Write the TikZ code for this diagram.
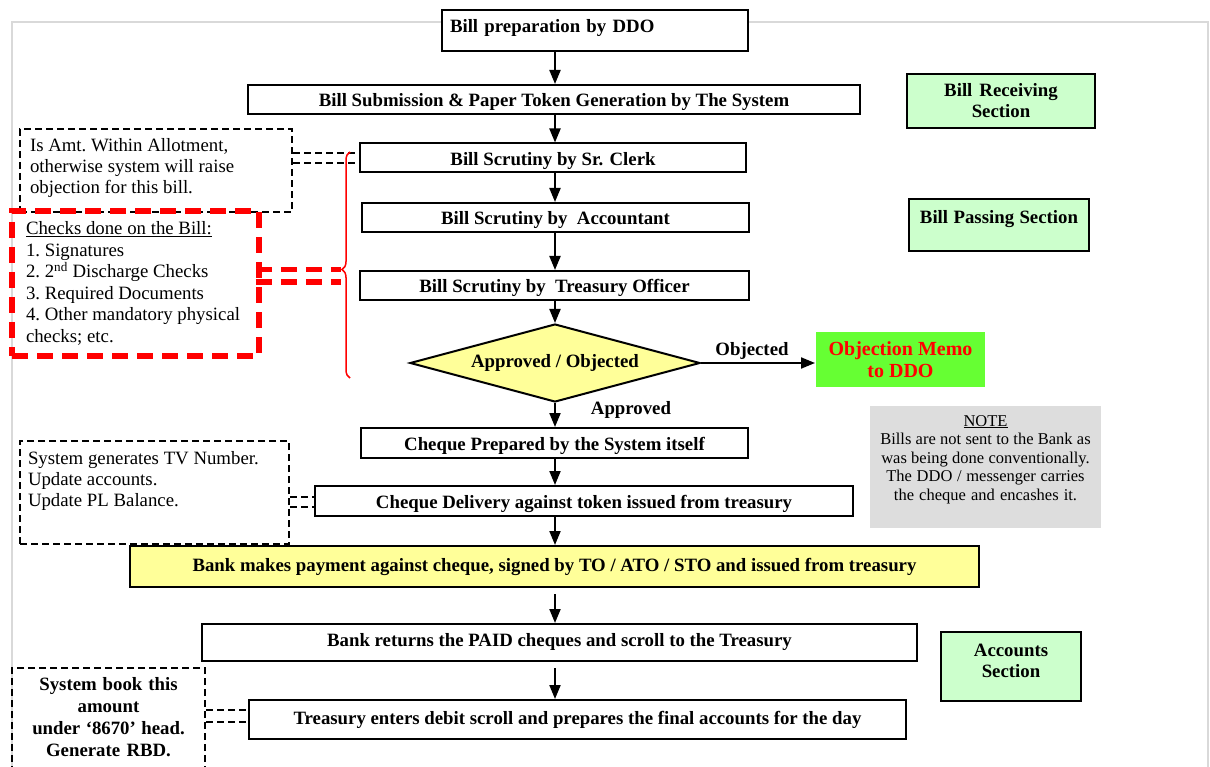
\documentclass[tikz,border=0pt]{standalone}
\usepackage{fontspec}
\setmainfont{Liberation Serif}
\usetikzlibrary{arrows.meta,shapes.geometric,decorations.pathreplacing}
\definecolor{paleyellow}{HTML}{FFFF99}
\definecolor{palegreen}{HTML}{CCFFCC}
\definecolor{memogreen}{HTML}{66FF33}
\definecolor{notegray}{HTML}{DDDDDD}
\definecolor{framegray}{HTML}{D9D9D9}

\begin{document}
\begin{tikzpicture}[x=1pt, y=-1pt,
    plainspace/.style={execute at begin node={\spaceskip=0pt\xspaceskip=0pt\frenchspacing}},
    stage/.style={draw, fill=white, line width=2pt, inner sep=0pt, font=\bfseries\fontsize{18.8}{21}\selectfont},
    slim/.style={stage, text height=19pt, text depth=4pt},
    section/.style={stage, fill=palegreen, align=center, plainspace},
    tag/.style={inner sep=0pt, font=\bfseries\fontsize{18.8}{21}\selectfont},
    remark/.style={draw, dash pattern=on 7pt off 4pt, line width=2pt, inner ysep=0pt, align=left, plainspace, font=\fontsize{18.8}{21}\selectfont},
    flow/.style={-{Triangle[length=14pt,width=11pt]}, line width=2pt},
    link/.style={dash pattern=on 7pt off 4pt, line width=2pt},
    redlink/.style={draw=red, dash pattern=on 16pt off 9pt, line width=5.5pt}]
    \useasboundingbox (0,0) rectangle (1210,767);
    \clip (0,0) rectangle (1210,767);
    \draw[framegray, line width=2pt] (12,790) -- (12,22) -- (1208,22) -- (1208,790);

    % Nodes
    \node[stage, inner xsep=8pt, text width=290pt, text height=23pt, text depth=18pt] (ddo) at (595,30.5) {Bill preparation by DDO};
    \node[slim, minimum width=612pt, minimum height=29pt] (submit) at (554,99.5) {Bill Submission \& Paper Token Generation by The System};
    \node[slim, minimum width=386pt, minimum height=29pt] (clerk) at (553,158) {Bill Scrutiny by Sr. Clerk};
    \node[slim, minimum width=387pt, minimum height=29pt] (accnt) at (555.5,217.5) {Bill Scrutiny by\ \ Accountant};
    \node[slim, minimum width=389pt, minimum height=29pt] (tofficer) at (554.5,285.5) {Bill Scrutiny by\ \ Treasury Officer};
    \node[stage, diamond, fill=paleyellow, aspect=3.7, minimum width=290pt, minimum height=78pt] (decide) at (555,363) {Approved / Objected};
    \node[stage, draw=none, fill=memogreen, text=red, align=center, minimum width=169pt, minimum height=55pt, font=\bfseries\fontsize{20}{22}\selectfont] (memo) at (900.5,359.5) {Objection Memo\\to DDO};
    \node[slim, minimum width=387pt, minimum height=30pt] (cheque) at (554.5,443) {Cheque Prepared by the System itself};
    \node[slim, minimum width=538pt, minimum height=30pt] (deliver) at (584,501) {Cheque Delivery against token issued from treasury};
    \node[stage, fill=paleyellow, minimum width=849pt, minimum height=41pt] (bank) at (554.5,566.5) {Bank makes payment against cheque, signed by TO / ATO / STO and issued from treasury};
    \node[stage, minimum width=715pt, minimum height=37pt] (paid) at (559.5,642.5) {Bank returns the PAID cheques and scroll to the Treasury};
    \node[stage, minimum width=657pt, minimum height=39pt] (debit) at (577.5,719.5) {Treasury enters debit scroll and prepares the final accounts for the day};

    % Sections and note
    \node[section, text width=188pt, text height=23pt, text depth=31pt] (recv) at (1001,101) {Bill Receiving\\Section};
    \node[section, text width=180pt, text height=25pt, text depth=27pt] (passing) at (999,225) {Bill Passing Section};
    \node[section, text width=140pt, text height=24pt, text depth=45pt] (accounts) at (1011,666.5) {Accounts\\Section};
    \node[fill=notegray, plainspace, text width=215pt, inner xsep=8pt, inner ysep=0pt, text height=20pt, text depth=102pt, align=center, font=\fontsize{16.5}{18.5}\selectfont] (note) at (985.5,467) {\underline{NOTE}\\Bills are not sent to the Bank as\\was being done conventionally.\\The DDO / messenger carries\\the cheque and encashes it.};

    % Remarks
    \node[remark, text width=252pt, inner xsep=10pt, text height=23pt, text depth=60pt] (amtbox) at (156,170.5) {Is Amt. Within Allotment,\\otherwise system will raise\\objection for this bill.};
    \node[remark, draw=red, dash pattern=on 16pt off 9pt, line width=5.5pt, text width=219pt, inner xsep=14pt, text height=24pt, text depth=121pt, font=\fontsize{18.8}{21.5}\selectfont] (checkbox) at (135.5,283.5) {\underline{Checks done on the Bill:}\\1. Signatures\\2. 2\textsuperscript{nd} Discharge Checks\\3. Required Documents\\4. Other mandatory physical\\checks; etc.};
    \node[remark, text width=253pt, inner xsep=8pt, text height=23pt, text depth=80pt] (tvbox) at (154.5,492.5) {System generates TV Number.\\Update accounts.\\Update PL Balance.};
    \node[remark, text width=177pt, inner xsep=8pt, align=center, text height=22pt, text depth=110pt, font=\bfseries\fontsize{18.8}{22}\selectfont] (rbdbox) at (108.5,734) {System book this\\amount\\under ‘8670’ head.\\Generate RBD.};

    % Labels
    \node[tag] (objl) at (752,351) {Objected};
    \node[tag] (okl) at (631,410) {Approved};

    % Arrows
    \coordinate (spine) at (555,0);
    \foreach \a/\b in {ddo/submit, submit/clerk, clerk/accnt, accnt/tofficer, tofficer/decide, decide/cheque, cheque/deliver, deliver/bank}
        \draw[flow] (\a.south -| spine) -- (\b.north -| spine);
    \foreach \a/\b in {bank/paid, paid/debit}
        \draw[flow, shorten <=6pt] (\a.south -| spine) -- (\b.north -| spine);
    \draw[flow] (decide.east) -- (decide.east -| memo.west);

    % Dashed links
    \foreach \y in {153,163}
        \draw[link] (amtbox.east |- 0,\y) -- (clerk.west |- 0,\y);
    \foreach \y in {497,507}
        \draw[link] (tvbox.east |- 0,\y) -- (deliver.west |- 0,\y);
    \foreach \y in {710,722}
        \draw[link] (rbdbox.east |- 0,\y) -- (debit.west |- 0,\y);

    % Brace
    \coordinate (tip) at (341,270);
    \draw[red, line width=1.5pt, decorate, decoration={brace, amplitude=8pt, aspect=0.48}] (350,378) -- (350,152);
    \foreach \y in {269.5,282}
        \draw[redlink, shorten <=-6pt] (checkbox.east |- 0,\y) -- (tip |- 0,\y);
\end{tikzpicture}
\end{document}
